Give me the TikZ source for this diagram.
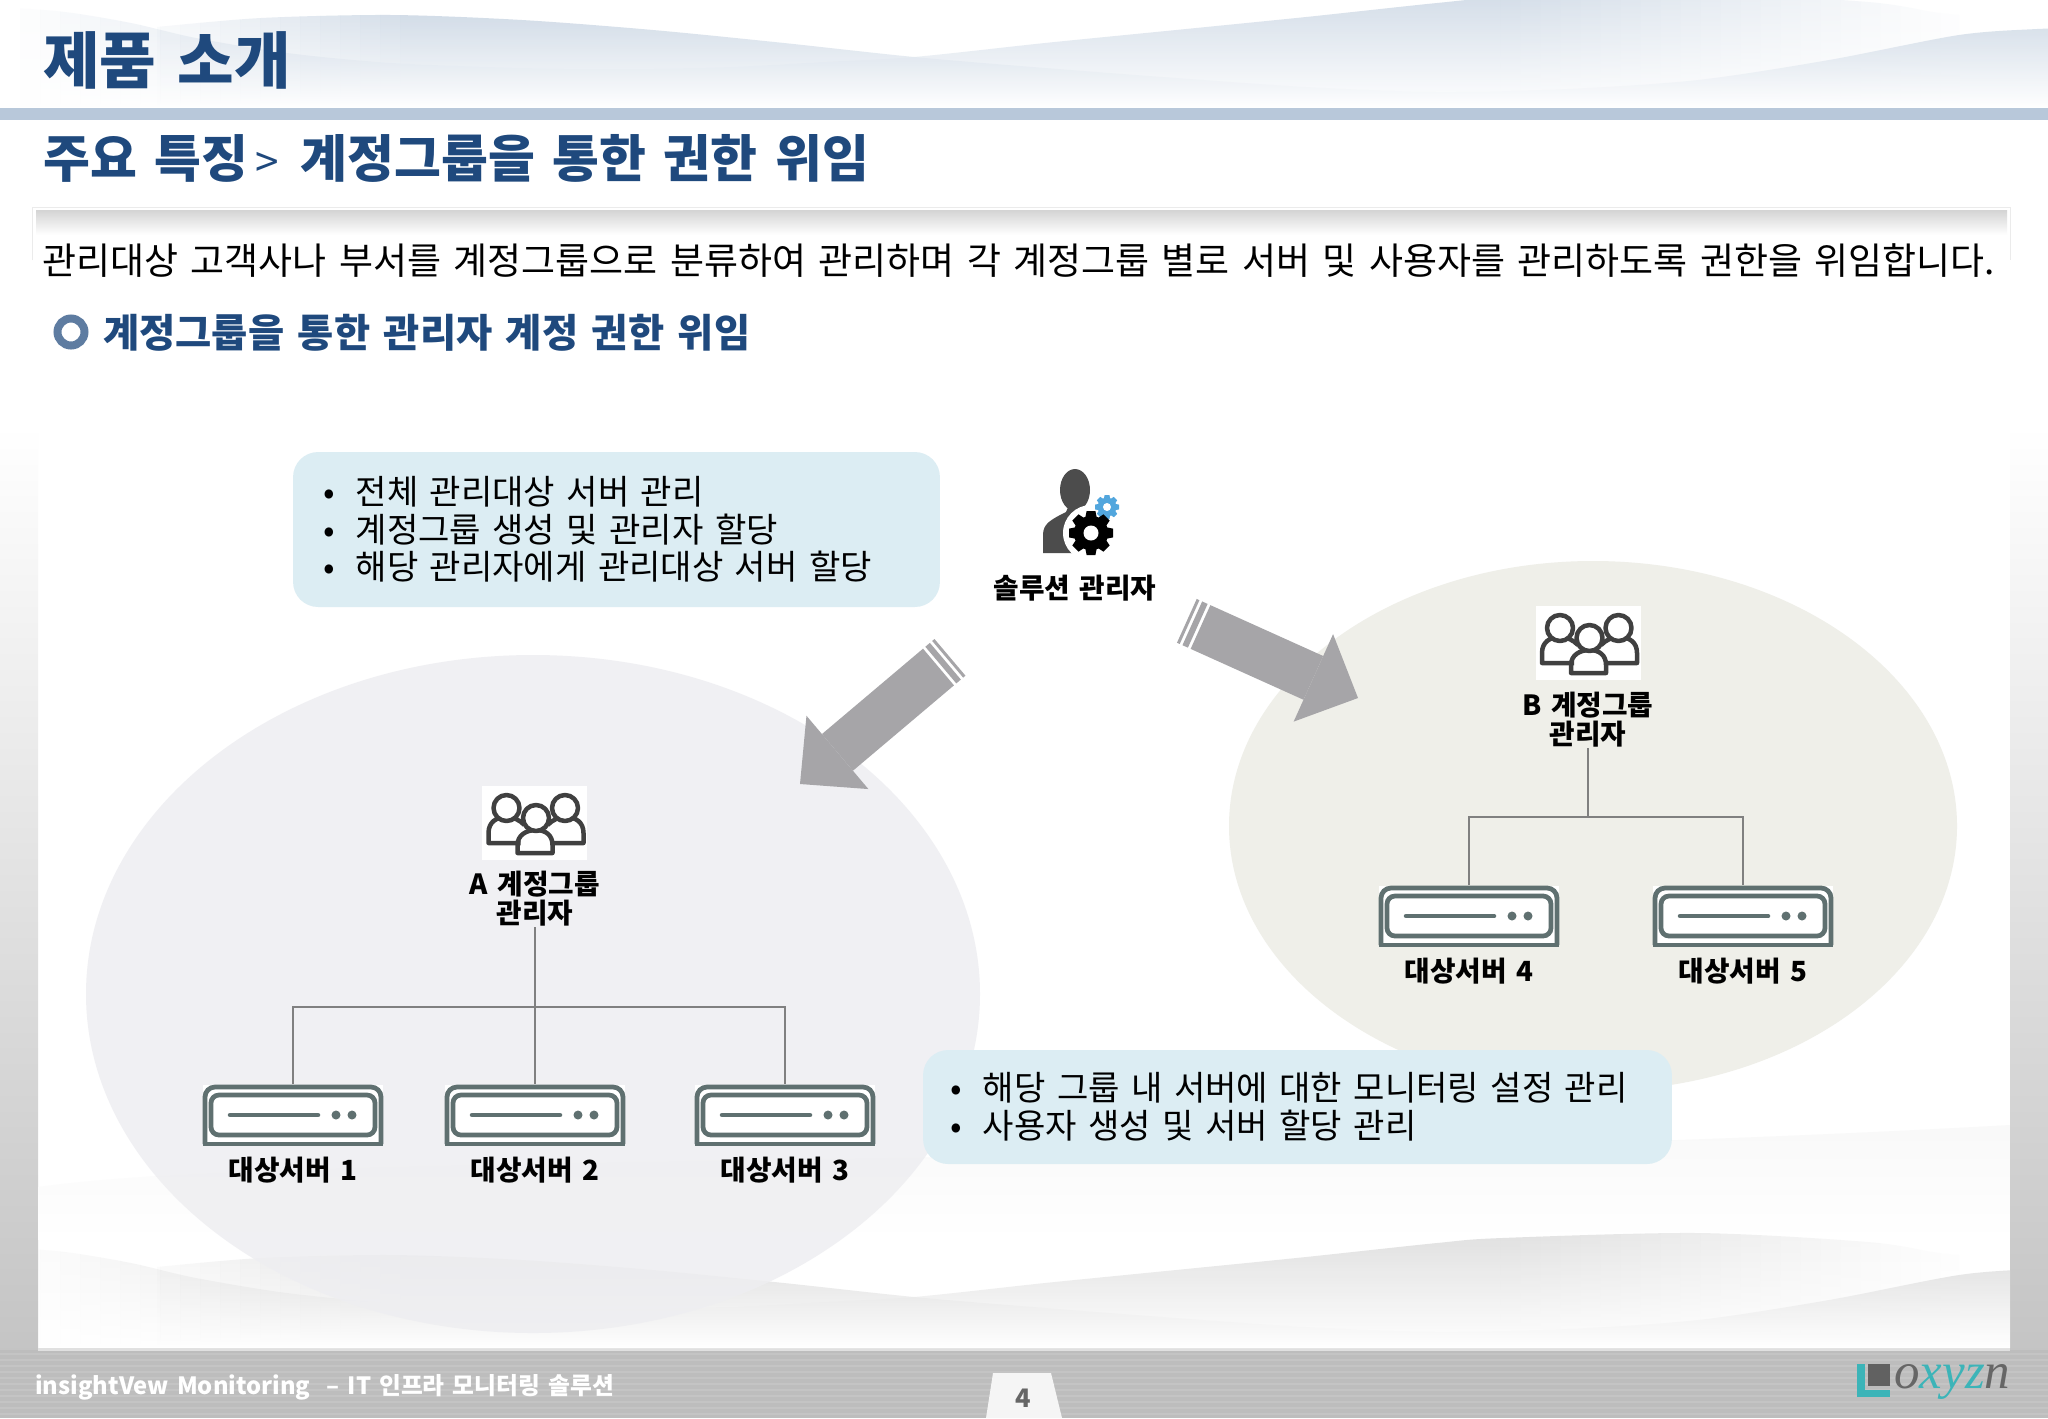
\documentclass[tikz,border=0pt]{standalone}
\usepackage{fontspec}
\setmainfont{Noto Sans CJK KR}[WordSpace=1.5]
\newfontfamily\logofont{Liberation Serif}
\usetikzlibrary{arrows.meta}
\usetikzlibrary{calc}

\definecolor{titleblue}{HTML}{1F497D}
\definecolor{barblue}{HTML}{B8C8DA}
\definecolor{calloutblue}{HTML}{DCEDF3}
\definecolor{arrowgray}{HTML}{A6A5A8}
\definecolor{servergray}{HTML}{5F7070}
\definecolor{logoteal}{HTML}{3CB4B8}
\definecolor{gearblue}{HTML}{52A6DD}
\definecolor{groupAfill}{HTML}{EEEEF1}
\definecolor{groupBfill}{HTML}{EFEFE9}
\definecolor{paneltint}{HTML}{FAFAFE}

\tikzset{
    titletext/.style={anchor=west,inner sep=0pt,text=titleblue,font=\fontsize{35}{36}\selectfont\bfseries},
    subtext/.style={anchor=west,inner sep=0pt,text=titleblue,font=\fontsize{29}{31}\selectfont\bfseries},
    sectiontext/.style={anchor=west,inner sep=0pt,text=titleblue,font=\fontsize{22.4}{24}\selectfont\bfseries},
    bodytext/.style={anchor=west,inner sep=0pt,font=\fontsize{21.04}{23}\selectfont},
    calloutbox/.style={fill=calloutblue,rounded corners=0.5cm,inner sep=0pt,align=left,font=\fontsize{19.4}{21.4}\selectfont},
    boldlabel/.style={inner sep=0pt,align=center,font=\fontsize{15.8}{16.6}\selectfont\bfseries},
    iconbox/.style={fill=white,inner sep=0pt,minimum width=2.1cm,minimum height=1.48cm},
    serverbox/.style={fill=white,inner sep=0pt,minimum width=3.6cm,minimum height=1.22cm},
    serverline/.style={draw=servergray,line width=0.095cm},
    treeline/.style={draw=black!50,line width=0.035cm},
    bigarrow/.style={draw=arrowgray,line width=0.96cm,-{Triangle[length=0.98cm,width=1.92cm,line width=0pt]}},
    wavetop/.style={top color=barblue!78,middle color=barblue!50,bottom color=white},
    wavebottom/.style={top color=black!15,middle color=black!9,bottom color=white},
    peopleline/.style={draw=black!75,line width=0.09cm,line join=round},
    peopleicon/.pic={
        \draw[peopleline] (-14,20) -- (-46,20) -- (-46,10) .. controls (-46,-1) and (-38,-6) .. (-28,-6) .. controls (-21,-6) and (-15,-3) .. (-10,2);
        \draw[peopleline] (17,20) -- (49,20) -- (49,10) .. controls (49,-1) and (41,-6) .. (31,-6) .. controls (24,-6) and (18,-3) .. (13,2);
        \draw[peopleline] (-17,30) -- (-17,22) .. controls (-17,12) and (-8,7) .. (1.5,7) .. controls (11,7) and (18,12) .. (18,22) -- (18,30) -- cycle;
        \foreach \hx/\hy in {-28/-15,1.5/-5,30.5/-15} {
            \draw[peopleline,fill=white] (\hx,\hy) circle (0.26cm);
        }
    },
}

% one gear: centre, radius, hole, colour
\newcommand{\gearshape}[4]{
    \foreach \a in {0,45,...,315} {
        \fill[#4,rotate around={\a:(#1)}] ($(#1)+(-0.2*#2,-#2)$) -- ($(#1)+(0.2*#2,-#2)$) -- ($(#1)+(0.4*#2,0)$) -- ($(#1)+(-0.4*#2,0)$) -- cycle;
    }
    \fill[#4] (#1) circle ({0.78*#2});
    \fill[white] (#1) circle ({#3});
}

% the wave lines of the slide background
\newcommand{\waveone}{plot[smooth] coordinates {(157,27)(261,18)(392,15)(522,20)(653,30)(784,43)(914,57)(1045,68)(1176,78)(1306,87)(1437,92)(1567,89)(1698,80)(1829,60)(1959,35)(2037,29)(2060,29)} -- (2060,108) -- (157,108) -- cycle}
\newcommand{\wavetwo}{plot[smooth] coordinates {(0,7)(65,12)(131,23)(196,38)(287,53)(392,63)(522,68)(627,69)(731,67)(823,62)(914,57)(1045,43)(1176,30)(1306,17)(1437,3)(1502,-2)(1698,-7)(1868,2)(1933,12)(1959,15)} -- (1959,108) -- (0,108) -- cycle}

% a wave in 20px slices, opacity going from #4 to #5 over the list #3
\newcommand{\waveslices}[6]{
    \foreach \sx in {#3} {
        \pgfmathsetmacro{\sop}{#4+(#5-#4)*(\sx-#6)/300}
        \begin{scope}
            \clip (\sx,-20) rectangle (\sx+20,120);
            \shade[#2,opacity=\sop] #1;
        \end{scope}
    }
}
% both waves, with their soft ends
\newcommand{\bothwaves}[1]{
    \waveslices{\wavetwo}{#1}{0,20,...,280}{0}{0.8}{0}
    \begin{scope}
        \clip (300,-20) rectangle (1500,120);
        \shade[#1,opacity=0.8] \wavetwo;
    \end{scope}
    \waveslices{\wavetwo}{#1}{1500,1520,...,1940}{0.8}{0.28}{1500}
    \waveslices{\waveone}{#1}{100,120,...,380}{0}{0.8}{100}
    \begin{scope}
        \clip (400,-20) rectangle (2048,120);
        \shade[#1,opacity=0.8] \waveone;
    \end{scope}
}

\begin{document}
\begin{tikzpicture}[x=0.02cm,y=-0.02cm]
\useasboundingbox (0,0) rectangle (2048,1418);
\fill[white] (0,0) rectangle (2048,1418);

% frame
\shade[top color=white,bottom color=black!23] (0,425) rectangle (38,1350);
\shade[top color=white,bottom color=black!23] (2010,425) rectangle (2048,1350);
\fill[black!26] (0,1350) rectangle (2048,1418);
\foreach \y in {1354,1360,...,1416} {
    \draw[black!23,line width=0.04cm] (0,\y) -- (2048,\y);
}
\fill[black!12] (38,1348) rectangle (2010,1351);

% waves, top and bottom
\begin{scope}
    \clip (0,0) rectangle (2048,108);
    \bothwaves{wavetop}
\end{scope}
\shade[top color=black!2.5,bottom color=white] (38,1187) .. controls (300,1150) and (1200,1170) .. (2010,1125) -- (2010,1240) -- (38,1240) -- cycle;
\begin{scope}
    \clip (38,1200) rectangle (2010,1348);
    \begin{scope}[shift={(0,1240)}]
        \bothwaves{wavebottom}
    \end{scope}
\end{scope}
\fill[barblue] (0,108) rectangle (2048,120);

% heading
\node[titletext] (title) at (43,60) {제품 소개};
\node[subtext] (subtitle) at (43,158) {주요 특징{\fontsize{24}{24}\selectfont\mdseries\,>\hspace{0.44cm}}계정그룹을 통한 권한 위임};

% upper panel
\shade[top color=white,middle color=paneltint,bottom color=white] (32,240) rectangle (2010,425);
\draw[black!8] (32,260) -- (32,207) -- (2010,207) -- (2010,260);
\shade[top color=black!17,bottom color=white] (36,210) rectangle (2007,235);
\node[bodytext] (intro) at (42,261) {관리대상 고객사나 부서를 계정그룹으로 분류하여 관리하며 각 계정그룹 별로 서버 및 사용자를 관리하도록 권한을 위임합니다.};
\draw[draw=titleblue!72,line width=0.16cm] (71,332) circle (0.27cm);
\node[sectiontext] (section) at (103,333) {계정그룹을 통한 관리자 계정 권한 위임};

% the two groups
\fill[groupAfill,opacity=0.85] (533,994) ellipse [x radius=447,y radius=339];
\fill[groupBfill] (1593,826) ellipse [x radius=364,y radius=265];

% solution admin
\coordinate (gearBig) at (1091,533);
\coordinate (gearSmall) at (1107,507);
\fill[black!70] (1075,490) ellipse [x radius=15,y radius=21];
\fill[black!70] (1043,553) -- (1043,535) .. controls (1043,524) and (1050,520) .. (1066,512) -- (1069,505) -- (1081,505) -- (1086,512) -- (1100,520) -- (1100,553) -- cycle;
\fill[white] (gearBig) circle (0.56cm);
\fill[white] (gearSmall) circle (0.28cm);
\gearshape{gearSmall}{12}{4}{gearblue}
\gearshape{gearBig}{22}{7.5}{black}
\node[boldlabel] (adminlabel) at (1075,588) {솔루션 관리자};

% big arrows
\coordinate (tailA) at (938.5,667);
\coordinate (tipA) at (800,784);
\coordinate (tailB) at (1200.5,627);
\coordinate (tipB) at (1358,698);
\foreach \a in {A,B} {
    \draw[bigarrow] (tail\a) -- (tip\a);
    \draw[arrowgray,line width=0.96cm] ($(tail\a)!-0.06cm!(tip\a)$) -- ($(tail\a)!-0.18cm!(tip\a)$);
    \draw[arrowgray,line width=0.96cm] ($(tail\a)!-0.24cm!(tip\a)$) -- ($(tail\a)!-0.30cm!(tip\a)$);
}

% group admins
\node[iconbox] (groupA) at (534.5,823) {};
\pic at (groupA) {peopleicon};
\node[boldlabel] (labelA) at (535,899) {A 계정그룹\\관리자};
\node[iconbox] (groupB) at (1588,643) {};
\pic at (groupB) {peopleicon};
\node[boldlabel] (labelB) at (1588,720) {B 계정그룹\\관리자};

% servers
\foreach \n/\x/\y/\t in {serverA/293/1115/대상서버 1,serverB/535/1115/대상서버 2,serverC/785/1115/대상서버 3,serverD/1469/916/대상서버 4,serverE/1743/916/대상서버 5} {
    \begin{scope}[shift={(\x,\y)}]
        \node[serverbox] (\n) at (0,0) {};
        \draw[serverline,rounded corners=0.2cm] (-88,29) -- (-88,-28) -- (88,-28) -- (88,29);
        \draw[serverline] (-90,29) -- (90,29);
        \draw[serverline,rounded corners=0.16cm] (-82,-20) rectangle (82,20);
        \draw[servergray,line width=0.09cm,line cap=round] (-63,0) -- (25,0);
        \fill[servergray] (43,0) circle (0.09cm);
        \fill[servergray] (59,0) circle (0.09cm);
        \node[boldlabel] (\n label) at (0,55) {\t};
    \end{scope}
}

% tree lines
\coordinate (busA) at (535,1007);
\coordinate (busB) at (1588,817);
\draw[treeline] (labelA.south) -- (serverB.north);
\draw[treeline] (serverA.north) -- (serverA.north |- busA) -- (serverC.north |- busA) -- (serverC.north);
\draw[treeline] (labelB.south) -- (busB);
\draw[treeline] (serverD.north) -- (serverD.north |- busB) -- (serverE.north |- busB) -- (serverE.north);

% callouts
\node[calloutbox,minimum width=12.94cm,minimum height=3.1cm] (calloutTop) at (616.5,529.5) {%
    \hspace*{0.6cm}\textbullet\hspace{0.42cm}전체 관리대상 서버 관리\\
    \hspace*{0.6cm}\textbullet\hspace{0.42cm}계정그룹 생성 및 관리자 할당\\
    \hspace*{0.6cm}\textbullet\hspace{0.42cm}해당 관리자에게 관리대상 서버 할당\hspace*{1.36cm}};
\node[calloutbox,minimum width=14.98cm,minimum height=2.28cm] (calloutBottom) at (1297.5,1107) {%
    \hspace*{0.5cm}\textbullet\hspace{0.42cm}해당 그룹 내 서버에 대한 모니터링 설정 관리\hspace*{0.84cm}\\
    \hspace*{0.5cm}\textbullet\hspace{0.42cm}사용자 생성 및 서버 할당 관리};

% footer
\node[anchor=west,inner sep=0pt,text=white,font=\fontsize{13.5}{15}\selectfont\bfseries] (footer) at (35,1387) {insightVew Monitoring ~– IT 인프라 모니터링 솔루션};
\fill[black!4] (986,1418) -- (993,1373) -- (1051,1373) -- (1062,1418) -- cycle;
\node[inner sep=0pt,text=black!60,font=\fontsize{14.5}{15}\selectfont\bfseries] (pageno) at (1023,1398) {4};
\fill[logoteal] (1857,1364) rectangle (1865,1397);
\fill[logoteal] (1857,1390) rectangle (1890,1397);
\fill[black!62] (1868,1364) rectangle (1890,1386);
\node[anchor=west,inner sep=0pt,font=\fontsize{29}{30}\logofont\itshape] (logo) at (1894,1382) {\textcolor{black!60}{o}\textcolor{logoteal}{xyz}\textcolor{black!60}{n}};
\end{tikzpicture}
\end{document}
